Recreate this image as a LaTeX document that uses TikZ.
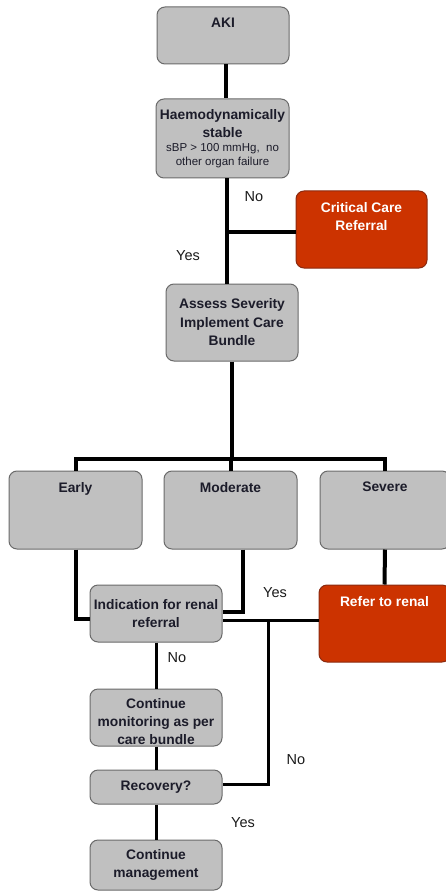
\documentclass[tikz,border=0pt]{standalone}
\usepackage{fontspec}
\setmainfont{Liberation Sans}
\definecolor{boxgrey}{HTML}{C0C0C0}
\definecolor{boxline}{HTML}{6A6A6A}
\definecolor{boxtext}{HTML}{1C1C2A}
\definecolor{redfill}{HTML}{CC3300}
\definecolor{redline}{HTML}{8A2A10}
\definecolor{lbltext}{HTML}{1A1A1A}
\begin{document}
\begin{tikzpicture}[x=1pt,y=-1pt,
  box/.style={draw=boxline, fill=boxgrey, rounded corners=8pt, line width=1pt,
    inner sep=0pt, text=boxtext, align=center,
    font=\fontsize{13.8}{18.5}\selectfont\bfseries},
  redbox/.style={box, fill=redfill, draw=redline, text=white},
  toplbl/.style={anchor=north, yshift=-11.5pt, inner sep=0pt, align=center,
    font=\fontsize{13.8}{18.5}\selectfont\bfseries},
  conn/.style={line width=4pt, draw=black, line join=miter},
  thinconn/.style={line width=3pt, draw=black, line join=miter},
  lbl/.style={font=\fontsize{14.5}{17}\selectfont, text=lbltext, inner sep=0pt}
]
\useasboundingbox (0,0) rectangle (446,893);

% boxes
\node[box, minimum width=132pt, minimum height=57pt,
  label={[toplbl, text=boxtext]north:AKI}] (aki) at (223,35.5) {};
\node[box, minimum width=133pt, minimum height=79pt] (haemo) at (222.5,138.5)
  {Haemodynamically\\stable\\[-4.5pt]{\fontsize{11.5}{14}\selectfont\mdseries sBP > 100 mmHg,\ \ no}\\[-4.5pt]{\fontsize{11.5}{14}\selectfont\mdseries other organ failure}};
\node[redbox, minimum width=131pt, minimum height=77pt,
  label={[toplbl, text=white]north:Critical Care\\Referral}] (critical) at (361.5,229.5) {};
\node[box, minimum width=132pt, minimum height=77pt] (assess) at (232,322.5)
  {\raisebox{0pt}{Assess Severity}\\Implement Care\\Bundle};
\node[box, minimum width=133pt, minimum height=78pt,
  label={[toplbl, text=boxtext]north:Early}] (early) at (75.5,510) {};
\node[box, minimum width=133pt, minimum height=78pt,
  label={[toplbl, text=boxtext]north:Moderate}] (moderate) at (230.5,510) {};
\node[box, minimum width=130pt, minimum height=78pt,
  label={[toplbl, text=boxtext]north:Severe}] (severe) at (385,510) {};
\node[box, minimum width=132pt, minimum height=57pt] (indication) at (156,613.5)
  {Indication for renal\\referral};
\node[redbox, minimum width=131pt, minimum height=77pt,
  label={[toplbl, text=white]north:Refer to renal}] (refer) at (384.5,623.5) {};
\node[box, minimum width=132pt, minimum height=57pt] (monitor) at (156,717.5)
  {\strut};
\node[inner sep=0pt, align=center, text=boxtext,
  font=\fontsize{13.8}{18}\selectfont\bfseries] (monitortext) at (156,722)
  {Continue\\monitoring as per\\care bundle};
\node[box, minimum width=132pt, minimum height=34pt] (recovery) at (156,787)
  {Recovery?};
\node[box, minimum width=132pt, minimum height=50pt] (manage) at (156,865)
  {Continue\\management};

% helper coordinates
\coordinate (xa) at (226,0);
\coordinate (xb) at (227,0);
\coordinate (jcc) at (227,232);
\coordinate (bus) at (232,459);
\coordinate (ye) at (0,619);
\coordinate (xm) at (243,612);
\coordinate (jr) at (268,620);

% connectors
\draw[conn] (aki.south -| xa) -- (haemo.north -| xa);
\draw[conn] (haemo.south -| xb) -- (assess.north -| xb);
\draw[conn] (jcc) -- (critical.west |- jcc);
\draw[conn] (assess.south -| bus) -- (bus);
\draw[conn] (early.north) |- (bus) -| (severe.north);
\draw[conn] (moderate.north) -- (moderate.north |- bus);
\draw[conn] (early.south) |- (indication.west |- ye);
\draw[conn] (moderate.south -| xm) |- (indication.east |- xm);
\draw[conn] (severe.south) -- (refer.north);
\draw[thinconn] (indication.east |- jr) -- (refer.west |- jr);
\draw[thinconn] (jr) |- (recovery.east |- 0,784);
\draw[thinconn] (indication.south) -- (monitor.north);
\draw[thinconn] (monitor.south) -- (recovery.north);
\draw[thinconn] (recovery.south) -- (manage.north);

% labels
\node[lbl] (lno1) at (254,197) {No};
\node[lbl] (lyes1) at (188,256) {Yes};
\node[lbl] (lyes2) at (275,593) {Yes};
\node[lbl] (lno2) at (177,658) {No};
\node[lbl] (lno3) at (296,760) {No};
\node[lbl] (lyes3) at (243,823) {Yes};
\end{tikzpicture}
\end{document}
